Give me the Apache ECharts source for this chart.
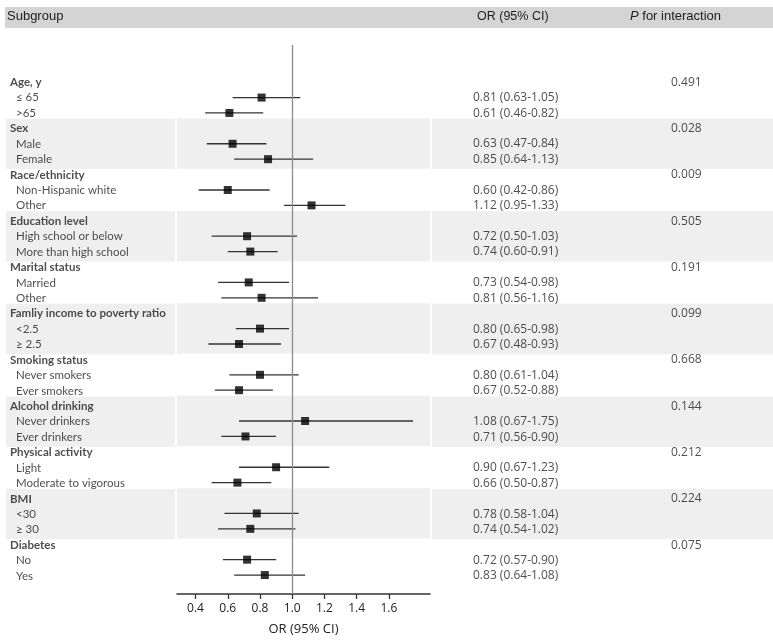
<!DOCTYPE html>
<html>
<head>
<meta charset="utf-8">
<script src="https://cdn.jsdelivr.net/npm/echarts@6/dist/echarts.min.js"></script>
<style>html,body{margin:0;padding:0;background:#fff}#c{width:773px;height:641px}</style>
</head>
<body>
<div id="c"></div>
<script>
const groupNames = ["Age, y","Sex","Race/ethnicity","Education level","Marital status","Famliy income to poverty ratio","Smoking status","Alcohol drinking","Physical activity","BMI","Diabetes"];
const subLabels = ["≤ 65",">65","Male","Female","Non-Hispanic white","Other","High school or below","More than high school","Married","Other","<2.5","≥ 2.5","Never smokers","Ever smokers","Never drinkers","Ever drinkers","Light","Moderate to vigorous","<30","≥ 30","No","Yes"];
const orValues = [0.81,0.61,0.63,0.85,0.60,1.12,0.72,0.74,0.73,0.81,0.80,0.67,0.80,0.67,1.08,0.71,0.90,0.66,0.78,0.74,0.72,0.83];
const ciLower = [0.63,0.46,0.47,0.64,0.42,0.95,0.50,0.60,0.54,0.56,0.65,0.48,0.61,0.52,0.67,0.56,0.67,0.50,0.58,0.54,0.57,0.64];
const ciUpper = [1.05,0.82,0.84,1.13,0.86,1.33,1.03,0.91,0.98,1.16,0.98,0.93,1.04,0.88,1.75,0.90,1.23,0.87,1.04,1.02,0.90,1.08];
const pInteraction = ["0.491","0.028","0.009","0.505","0.191","0.099","0.668","0.144","0.212","0.224","0.075"];
const xTicks = [0.4,0.6,0.8,1.0,1.2,1.4,1.6];
const shadedGroups = [1,3,5,7,9];

const groupRow = g => g * 3;
const subRow = k => Math.floor(k / 2) * 3 + 1 + (k % 2);

const headerData = groupNames.map((n, g) => ({value: [0, groupRow(g)], name: n}));
const subData = subLabels.map((n, k) => ({value: [0, subRow(k)], name: n}));
const orTextData = orValues.map((v, k) => ({value: [0, subRow(k)], name: v.toFixed(2) + ' (' + ciLower[k].toFixed(2) + '-' + ciUpper[k].toFixed(2) + ')'}));
const pTextData = pInteraction.map((p, g) => ({value: [0, groupRow(g)], name: p}));
const pointData = orValues.map((v, k) => [v, subRow(k)]);
const ciData = orValues.map((v, k) => [ciLower[k], ciUpper[k], subRow(k)]);
const bandAreas = shadedGroups.map(g => [{yAxis: groupRow(g) - 0.64}, {yAxis: groupRow(g) + 2 + 0.62}]);

const Y_MIN = -5.334, Y_MAX = 33.23;
const FONT = "'Open Sans', sans-serif";
const LFONT = "Lato, 'Open Sans', sans-serif";
const TXT = '#222';

const grids = [
  {left: 6, width: 169, top: 0, bottom: 46},
  {left: 177, width: 253, top: 0, bottom: 46},
  {left: 432, right: 0, top: 0, bottom: 46},
  {left: 473, width: 100, top: 0, bottom: 46},
  {left: 671, width: 80, top: 0, bottom: 46}
];
const hiddenX = i => ({gridIndex: i, type: 'value', min: 0, max: 1, show: false});
const yAxes = grids.map((g, i) => ({gridIndex: i, type: 'value', inverse: true, min: Y_MIN, max: Y_MAX, show: false}));

const bandSeries = i => ({
  type: 'scatter', xAxisIndex: i, yAxisIndex: i, data: [], silent: true,
  markArea: {silent: true, itemStyle: {color: '#efefef'}, data: bandAreas}
});

const option = {
  animation: false,
  grid: grids,
  xAxis: [
    hiddenX(0),
    {
      gridIndex: 1, type: 'value', min: 0.285, max: 1.855,
      axisLine: {show: true, onZero: false, lineStyle: {color: '#333', width: 1.5}},
      axisTick: {show: true, customValues: xTicks, length: 5, lineStyle: {color: '#333', width: 1.3}},
      axisLabel: {customValues: xTicks, formatter: v => v.toFixed(1), color: TXT, fontSize: 12, fontFamily: FONT, margin: 9},
      splitLine: {show: false},
      name: 'OR (95% CI)', nameLocation: 'middle', nameGap: 29,
      nameTextStyle: {color: TXT, fontSize: 13, fontFamily: FONT}
    },
    hiddenX(2), hiddenX(3), hiddenX(4)
  ],
  yAxis: yAxes,
  graphic: [
    {type: 'rect', left: 5, top: 7, shape: {width: 768, height: 21}, style: {fill: '#d4d4d4'}, z: 0},
    {type: 'text', left: 7, top: 10, style: {text: 'Subgroup', fill: TXT, font: "13px 'Liberation Sans', Arial, sans-serif"}},
    {type: 'text', left: 477, top: 10, style: {text: 'OR (95% CI)', fill: TXT, font: "12.5px 'Liberation Sans', Arial, sans-serif"}},
    {type: 'text', left: 630, top: 10, style: {
      text: '{i|P} for interaction', fill: TXT, font: "13px 'Liberation Sans', Arial, sans-serif",
      rich: {i: {fontStyle: 'italic', fontSize: 13, fontFamily: "'Liberation Sans', Arial, sans-serif", fill: TXT}}
    }}
  ],
  series: [
    bandSeries(0), bandSeries(1), bandSeries(2),
    {
      type: 'scatter', xAxisIndex: 0, yAxisIndex: 0, symbolSize: 0, data: headerData, silent: true,
      label: {show: true, position: 'right', distance: 4, formatter: p => p.name, color: TXT, fontSize: 11.5, fontWeight: 'bold', fontFamily: LFONT}
    },
    {
      type: 'scatter', xAxisIndex: 0, yAxisIndex: 0, symbolSize: 0, data: subData, silent: true,
      label: {show: true, position: 'right', distance: 10, formatter: p => p.name, color: TXT, fontSize: 11.5, fontFamily: LFONT}
    },
    {
      type: 'custom', xAxisIndex: 1, yAxisIndex: 1, data: ciData, encode: {x: [0, 1], y: 2}, silent: true,
      renderItem: (params, api) => {
        const a = api.coord([api.value(0), api.value(2)]);
        const b = api.coord([api.value(1), api.value(2)]);
        return {type: 'line', shape: {x1: a[0], y1: a[1], x2: b[0], y2: b[1]}, style: {stroke: '#333', lineWidth: 1.3}};
      },
      markLine: {
        silent: true, symbol: 'none', label: {show: false},
        lineStyle: {color: '#8c8c8c', width: 1.3, type: 'solid'},
        data: [[{coord: [1, -2.417]}, {coord: [1, Y_MAX]}]]
      },
      z: 3
    },
    {
      type: 'scatter', xAxisIndex: 1, yAxisIndex: 1, data: pointData, symbol: 'rect', symbolSize: 8,
      itemStyle: {color: '#000'}, silent: true, z: 4
    },
    {
      type: 'scatter', xAxisIndex: 3, yAxisIndex: 3, symbolSize: 0, data: orTextData, silent: true,
      label: {show: true, position: 'right', distance: 0, formatter: p => p.name, color: TXT, fontSize: 12, fontFamily: FONT}
    },
    {
      type: 'scatter', xAxisIndex: 4, yAxisIndex: 4, symbolSize: 0, data: pTextData, silent: true,
      label: {show: true, position: 'right', distance: 0, formatter: p => p.name, color: TXT, fontSize: 12, fontFamily: FONT}
    }
  ]
};
echarts.init(document.getElementById('c')).setOption(option);
</script>
</body>
</html>
